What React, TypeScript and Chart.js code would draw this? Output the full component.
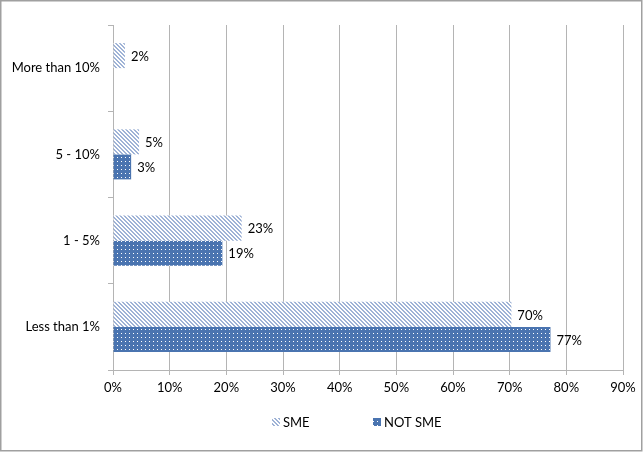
import React, { useRef, useEffect } from "react";
import { Chart, registerables } from "chart.js";

Chart.register(...registerables);

const categories = ["More than 10%", "5 - 10%", "1 - 5%", "Less than 1%"];
const smeValues = [2.1, 4.6, 22.7, 70.3];
const notSmeValues = [null, 3.2, 19.3, 77.2];
const smeLabels = ["2%", "5%", "23%", "70%"];
const notSmeLabels = ["", "3%", "19%", "77%"];
const seriesNames = ["SME", "NOT SME"];

const FONT = "Lato";
const GRID = "#b4b4b4";

function hatchPattern(ctx: CanvasRenderingContext2D) {
  const c = document.createElement("canvas");
  c.width = 4;
  c.height = 4;
  const p = c.getContext("2d")!;
  p.fillStyle = "#ffffff";
  p.fillRect(0, 0, 4, 4);
  p.fillStyle = "#9fb3d6";
  for (let i = 0; i < 4; i++) {
    p.fillRect(i, i, 1, 1);
    p.fillRect((i + 1) % 4, i, 1, 1);
  }
  return ctx.createPattern(c, "repeat")!;
}

function dotPattern(ctx: CanvasRenderingContext2D) {
  const c = document.createElement("canvas");
  c.width = 4;
  c.height = 4;
  const p = c.getContext("2d")!;
  p.fillStyle = "#4a74b0";
  p.fillRect(0, 0, 4, 4);
  p.fillStyle = "#ffffff";
  p.fillRect(1, 1, 1, 1);
  return ctx.createPattern(c, "repeat")!;
}

const App: React.FC = () => {
  const chartRef = useRef<HTMLCanvasElement | null>(null);

  useEffect(() => {
    document.body.style.margin = "0";
    const ctx = chartRef.current!.getContext("2d")!;
    const smeFill = hatchPattern(ctx);
    const notSmeFill = dotPattern(ctx);
    const valueLabels = [smeLabels, notSmeLabels];

    // white background + thin grey frame like the spreadsheet chart area
    const frame = {
      id: "frame",
      beforeDraw(chart: any) {
        const c = chart.ctx;
        c.save();
        c.fillStyle = "#ffffff";
        c.fillRect(0, 0, chart.width, chart.height);
        c.strokeStyle = "#a0a0a0";
        c.lineWidth = 1.5;
        c.strokeRect(0.75, 0.75, chart.width - 3, chart.height - 2);
        c.restore();
      },
    };

    const barLabels = {
      id: "barLabels",
      afterDatasetsDraw(chart: any) {
        const c = chart.ctx;
        c.save();
        c.font = `13px ${FONT}`;
        c.fillStyle = "#000000";
        c.textAlign = "left";
        c.textBaseline = "middle";
        chart.data.datasets.forEach((_: any, di: number) => {
          const meta = chart.getDatasetMeta(di);
          meta.data.forEach((el: any, i: number) => {
            const txt = valueLabels[di][i];
            if (!txt || el.skip) return;
            c.fillText(txt, el.x + 6, el.y + 1);
          });
        });
        c.restore();
      },
    };

    const legendBoxes = {
      id: "legendBoxes",
      afterDraw(chart: any) {
        const c = chart.ctx;
        const area = chart.chartArea;
        const mid = (area.left + area.right) / 2;
        const y = 422;
        c.save();
        c.font = `13px ${FONT}`;
        c.textBaseline = "middle";
        c.textAlign = "left";
        chart.data.datasets.forEach((ds: any, di: number) => {
          const x = mid - 96 + di * 101;
          c.fillStyle = ds.backgroundColor;
          c.fillRect(x, y - 4, 8, 8);
          c.fillStyle = "#000000";
          c.fillText(ds.label, x + 11, y + 1);
        });
        c.restore();
      },
    };

    const myChart = new Chart(ctx, {
      type: "bar",
      data: {
        labels: categories,
        datasets: [
          {
            label: seriesNames[0],
            data: smeValues,
            backgroundColor: smeFill,
            borderWidth: 0,
          },
          {
            label: seriesNames[1],
            data: notSmeValues,
            backgroundColor: notSmeFill,
            borderWidth: 0,
          },
        ],
      },
      options: {
        indexAxis: "y",
        responsive: false,
        animation: false,
        devicePixelRatio: 1,
        categoryPercentage: 0.58,
        barPercentage: 1,
        layout: { padding: { top: 25, right: 21, left: 0, bottom: 0 } },
        plugins: {
          legend: { display: false },
          tooltip: { enabled: false },
        },
        scales: {
          x: {
            min: 0,
            max: 90,
            ticks: {
              stepSize: 10,
              padding: 5,
              color: "#000000",
              font: { family: FONT, size: 13 },
              callback: (v: any) => `${v}%`,
            },
            grid: { color: GRID, tickLength: 5, lineWidth: 1 },
            border: { color: GRID },
            afterFit: (s: any) => {
              s.height = 82;
            },
          },
          y: {
            ticks: {
              padding: 8,
              color: "#000000",
              font: { family: FONT, size: 13 },
            },
            grid: {
              drawOnChartArea: false,
              color: GRID,
              tickLength: 5,
              offset: true,
            },
            border: { color: GRID },
            afterFit: (s: any) => {
              s.width = 113;
            },
          },
        },
      },
      plugins: [frame, barLabels, legendBoxes],
    } as any);

    return () => {
      myChart.destroy();
    };
  }, []);

  return (
    <div style={{ width: "644px", height: "452px" }}>
      <canvas ref={chartRef} width={644} height={452}></canvas>
    </div>
  );
};

export default App;
